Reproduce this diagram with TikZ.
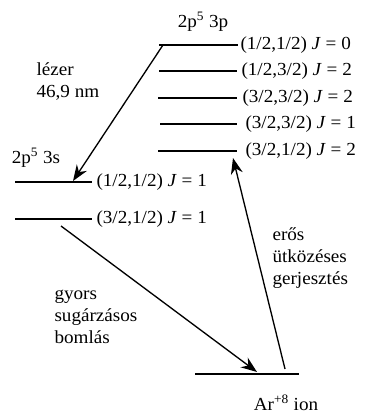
\documentclass[tikz,border=0pt]{standalone}
\usepackage{fontspec}
\setmainfont{Liberation Serif}[FakeStretch=1.04]
\usetikzlibrary{arrows.meta}

\tikzset{every picture/.style={line width=0.75pt}}
\tikzset{
  level/.style={line width=1pt},
  lbl/.style={anchor=west, inner sep=0.75pt, font=\fontsize{13.8}{16.5}\selectfont},
  txt/.style={inner sep=0.75pt, align=left, font=\fontsize{13.8}{16.5}\selectfont},
  trans/.style={line width=1pt, -{Stealth[length=12pt,width=9pt]}}
}

\begin{document}
\begin{tikzpicture}[x=0.75pt,y=0.75pt,yscale=-1,xscale=1]
\useasboundingbox (0,0) rectangle (369,417);
%Upper levels 2p5 3p
\coordinate (u1a) at (159,45);  \coordinate (u1b) at (238,45);
\coordinate (u2a) at (159,71);  \coordinate (u2b) at (237,71);
\coordinate (u3a) at (158,98);  \coordinate (u3b) at (237,98);
\coordinate (u4a) at (160,124); \coordinate (u4b) at (237,124);
\coordinate (u5a) at (158,151); \coordinate (u5b) at (237,151);
\draw [level] (u1a) -- (u1b) ;
\draw [level] (u2a) -- (u2b) ;
\draw [level] (u3a) -- (u3b) ;
\draw [level] (u4a) -- (u4b) ;
\draw [level] (u5a) -- (u5b) ;
%Lower levels 2p5 3s
\coordinate (s1a) at (15,182); \coordinate (s1b) at (92,182);
\coordinate (s2a) at (15,219); \coordinate (s2b) at (92,219);
\draw [level] (s1a) -- (s1b) ;
\draw [level] (s2a) -- (s2b) ;
%Ground level
\coordinate (ga) at (195,374); \coordinate (gb) at (299,374);
\draw [level] (ga) -- (gb) ;

% Level labels
\node [lbl] (l1) at (239,45) {(1/2,1/2) \textit{J} = 0};
\node [lbl] (l2) at (240,71) {(1/2,3/2) \textit{J} = 2};
\node [lbl] (l3) at (241,98) {(3/2,3/2) \textit{J} = 2};
\node [lbl] (l4) at (244,124) {(3/2,3/2) \textit{J} = 1};
\node [lbl] (l5) at (244,151) {(3/2,1/2) \textit{J} = 2};
\node [lbl] (l6) at (95,182) {(1/2,1/2) \textit{J} = 1};
\node [lbl] (l7) at (95,219) {(3/2,1/2) \textit{J} = 1};

% Configuration labels
\node [txt] (cfgp) at (203,22) {2p\textsuperscript{5} 3p};
\node [txt] (cfgs) at (36,158) {2p\textsuperscript{5} 3s};
\node [txt] (ion) at (286,403) {Ar\textsuperscript{+8} ion};

% Transitions
\coordinate (lasS) at (163,45);  \coordinate (lasE) at (73,181);
\coordinate (decS) at (61,226);  \coordinate (decE) at (257,372);
\coordinate (excS) at (285,369); \coordinate (excE) at (233,158);
\draw [trans] (lasS) -- (lasE) ;
\draw [trans] (decS) -- (decE) ;
\draw [trans] (excS) -- (excE) ;

% Text Node
\node [txt, anchor=west] (laser) at (35,82) {lézer\\46,9 nm};
% Text Node
\node [txt, anchor=west] (coll) at (271,258) {erős\\ütközéses\\gerjesztés};
% Text Node
\node [txt, anchor=west] (decay) at (53,317) {gyors\\sugárzásos\\bomlás};

\end{tikzpicture}
\end{document}
